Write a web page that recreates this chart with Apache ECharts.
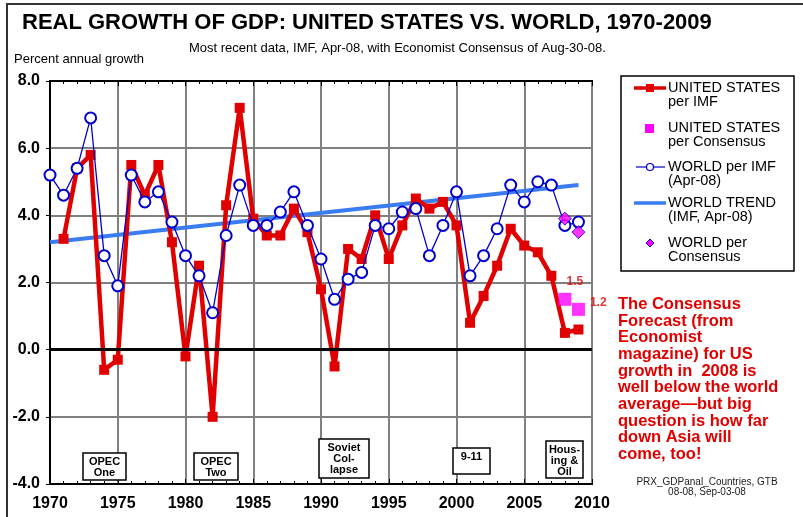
<!DOCTYPE html>
<html>
<head>
<meta charset="utf-8">
<script src="https://cdn.jsdelivr.net/npm/echarts@6/dist/echarts.min.js"></script>
<style>
  html, body { margin: 0; padding: 0; background: #fff; }
  #chart { width: 803px; height: 517px; }
</style>
</head>
<body>
<div id="chart"></div>
<script>
// data (percent annual growth)
const usYears = [1971, 1972, 1973, 1974, 1975, 1976, 1977, 1978, 1979, 1980,
  1981, 1982, 1983, 1984, 1985, 1986, 1987, 1988, 1989, 1990,
  1991, 1992, 1993, 1994, 1995, 1996, 1997, 1998, 1999, 2000,
  2001, 2002, 2003, 2004, 2005, 2006, 2007, 2008, 2009];
const usImf = [3.3, 5.4, 5.8, -0.6, -0.3, 5.5, 4.6, 5.5, 3.2, -0.2,
  2.5, -2.0, 4.3, 7.2, 3.9, 3.4, 3.4, 4.2, 3.5, 1.8,
  -0.5, 3.0, 2.7, 4.0, 2.7, 3.7, 4.5, 4.2, 4.4, 3.7,
  0.8, 1.6, 2.5, 3.6, 3.1, 2.9, 2.2, 0.5, 0.6];

const worldYears = [1970, 1971, 1972, 1973, 1974, 1975, 1976, 1977, 1978, 1979,
  1980, 1981, 1982, 1983, 1984, 1985, 1986, 1987, 1988, 1989,
  1990, 1991, 1992, 1993, 1994, 1995, 1996, 1997, 1998, 1999,
  2000, 2001, 2002, 2003, 2004, 2005, 2006, 2007, 2008, 2009];
const worldImf = [5.2, 4.6, 5.4, 6.9, 2.8, 1.9, 5.2, 4.4, 4.7, 3.8,
  2.8, 2.2, 1.1, 3.4, 4.9, 3.7, 3.7, 4.1, 4.7, 3.7,
  2.7, 1.5, 2.1, 2.3, 3.7, 3.6, 4.1, 4.2, 2.8, 3.7,
  4.7, 2.2, 2.8, 3.6, 4.9, 4.4, 5.0, 4.9, 3.7, 3.8];

const consensusYears = [2008, 2009];
const usConsensus = [1.5, 1.2];
const worldConsensus = [3.9, 3.5];

const trendYears = [1970, 2009];
const worldTrend = [3.2, 4.9];

const legendNames = [
  'UNITED STATES\nper IMF',
  'UNITED STATES\nper Consensus',
  'WORLD per IMF\n(Apr-08)',
  'WORLD TREND\n(IMF, Apr-08)',
  'WORLD per\nConsensus',
];

const events = [
  { text: 'OPEC\nOne', x: 83, y: 453, w: 43, h: 27 },
  { text: 'OPEC\nTwo', x: 194, y: 453, w: 44, h: 27 },
  { text: 'Soviet\nCol-\nlapse', x: 319, y: 439, w: 50, h: 39 },
  { text: '9-11', x: 453, y: 448, w: 37, h: 26 },
  { text: 'Hous-\ning &\nOil', x: 546, y: 441, w: 37, h: 37 },
];

const note = 'The Consensus\nForecast (from\nEconomist\nmagazine) for US\ngrowth in  2008 is\nwell below the world\naverage\u2014but big\nquestion is how far\ndown Asia will\ncome, too!';

const FONT = '"Liberation Sans", Arial, sans-serif';
const RED = '#e00000';
const BLUE = '#0000cc';
const TREND = '#3a7cf2';
const MAGENTA = '#ff00ff';

const pair = (xs, ys) => ys.map((v, i) => [xs[i], v]);

const chart = echarts.init(document.getElementById('chart'), null, { renderer: 'canvas' });

const consensusLabels = [
  { show: true, position: 'top', offset: [10, 0] },
  { show: true, position: 'right', offset: [0, -7] },
];

// hand-built legend so the key sits level with the first text line
const legendRows = [88, 128, 167, 203, 243];
const legendKeys = [
  [
    { type: 'line', shape: { x1: 634, y1: 88, x2: 666, y2: 88 }, style: { stroke: RED, lineWidth: 3.5 } },
    { type: 'rect', shape: { x: 646, y: 84, width: 8, height: 8 }, style: { fill: RED } },
  ],
  [
    { type: 'rect', shape: { x: 645, y: 124, width: 9, height: 9 }, style: { fill: MAGENTA } },
  ],
  [
    { type: 'line', shape: { x1: 636, y1: 167, x2: 665, y2: 167 }, style: { stroke: BLUE, lineWidth: 1.2 } },
    { type: 'circle', shape: { cx: 650, cy: 167, r: 3.5 }, style: { fill: '#fff', stroke: BLUE, lineWidth: 1.2 } },
  ],
  [
    { type: 'line', shape: { x1: 634, y1: 203, x2: 666, y2: 203 }, style: { stroke: TREND, lineWidth: 3.5 } },
  ],
  [
    { type: 'polygon', shape: { points: [[650, 239], [654, 243], [650, 247], [646, 243]] }, style: { fill: MAGENTA, stroke: BLUE, lineWidth: 1 } },
  ],
];

chart.setOption({
  animation: false,
  textStyle: { fontFamily: FONT },
  grid: { left: 50, right: 211, top: 81, bottom: 33, show: true, borderColor: '#000', borderWidth: 2 },
  xAxis: [{
    type: 'value', min: 1970, max: 2010, interval: 5,
    axisLine: { onZero: false, lineStyle: { color: '#000', width: 2 } },
    axisTick: { inside: true, length: 5, lineStyle: { color: '#000' } },
    minorTick: { show: true, splitNumber: 5, length: 3, lineStyle: { color: '#000' } },
    axisLabel: { fontSize: 16, fontWeight: 'bold', color: '#000', margin: 12, formatter: v => String(v) },
    splitLine: { show: true, lineStyle: { color: '#808080', width: 2 } },
  }, {
    type: 'value', min: 1970, max: 2010, interval: 5, position: 'top',
    axisLine: { onZero: false, lineStyle: { color: '#000', width: 2 } },
    axisTick: { inside: true, length: 5, lineStyle: { color: '#000' } },
    minorTick: { show: true, splitNumber: 5, length: 3, lineStyle: { color: '#000' } },
    axisLabel: { show: false },
    splitLine: { show: false },
  }],
  yAxis: {
    type: 'value', min: -4, max: 8, interval: 2,
    axisLine: { show: true, lineStyle: { color: '#000', width: 2 } },
    axisTick: { show: true, length: 4, lineStyle: { color: '#000' } },
    axisLabel: { fontSize: 16, fontWeight: 'bold', color: '#000', margin: 10, formatter: v => v.toFixed(1) },
    splitLine: { show: true, lineStyle: { color: '#808080', width: 2 } },
  },
  series: [
    {
      name: legendNames[3], type: 'line', z: 2,
      data: pair(trendYears, worldTrend),
      symbol: 'none', lineStyle: { color: TREND, width: 4 }, itemStyle: { color: TREND },
    },
    {
      name: legendNames[0], type: 'line', z: 3,
      data: pair(usYears, usImf),
      symbol: 'rect', symbolSize: 10,
      lineStyle: { color: RED, width: 4.5 }, itemStyle: { color: RED },
      markLine: {
        silent: true, symbol: 'none', label: { show: false },
        lineStyle: { color: '#000', width: 3, type: 'solid' },
        data: [{ yAxis: 0 }],
      },
    },
    {
      name: legendNames[2], type: 'line', z: 4,
      data: pair(worldYears, worldImf),
      symbol: 'emptyCircle', symbolSize: 11,
      lineStyle: { color: BLUE, width: 1.3 }, itemStyle: { color: BLUE, borderWidth: 1.3 },
    },
    {
      name: legendNames[1], type: 'scatter', z: 5,
      data: usConsensus.map((v, i) => ({ value: [consensusYears[i], v], label: consensusLabels[i] })),
      symbol: 'rect', symbolSize: 13, itemStyle: { color: MAGENTA },
      label: { color: RED, fontSize: 12, fontWeight: 'bold', formatter: p => p.value[1].toFixed(1) },
    },
    {
      name: legendNames[4], type: 'scatter', z: 5,
      data: pair(consensusYears, worldConsensus),
      symbol: 'diamond', symbolSize: 13,
      itemStyle: { color: MAGENTA, borderColor: BLUE, borderWidth: 1 },
    },
  ],
  graphic: [
    { type: 'polyline', shape: { points: [[7, 517], [7, 4], [803, 4]] }, style: { stroke: '#333', lineWidth: 2, fill: null } },
    { type: 'text', left: 22, top: 12, style: { text: 'REAL GROWTH OF GDP: UNITED STATES VS. WORLD, 1970-2009', fontSize: 22, fontWeight: 'bold', fill: '#000', fontFamily: FONT } },
    { type: 'text', left: 189, top: 42, style: { text: 'Most recent data, IMF, Apr-08, with Economist Consensus of Aug-30-08.', fontSize: 13, fill: '#000', fontFamily: FONT } },
    { type: 'text', left: 14, top: 53, style: { text: 'Percent annual growth', fontSize: 13, fill: '#000', fontFamily: FONT } },
    { type: 'rect', shape: { x: 621, y: 76, width: 173, height: 195 }, style: { stroke: '#000', lineWidth: 1.5, fill: null }, z: 1 },
    ...legendKeys.flat(),
    ...legendNames.map((name, i) => ({
      type: 'text', x: 668, y: legendRows[i] - 7,
      style: { text: name, fontSize: 14.5, lineHeight: 14, fill: '#000', verticalAlign: 'top', fontFamily: FONT },
    })),
    ...events.flatMap(e => [
      { type: 'rect', shape: { x: e.x, y: e.y, width: e.w, height: e.h }, style: { fill: '#fff', stroke: '#000', lineWidth: 1.5 }, z: 10 },
      { type: 'text', x: e.x + e.w / 2, y: e.y + 3, z: 11,
        style: { text: e.text, fontSize: 11, fontWeight: 'bold', lineHeight: 11, fill: '#000', align: 'center', verticalAlign: 'top', fontFamily: FONT } },
    ]),
    { type: 'text', x: 618, y: 296, style: { text: note, fontSize: 16.5, fontWeight: 'bold', lineHeight: 16.7, fill: RED, fontFamily: FONT } },
    { type: 'text', x: 707, y: 477, style: { text: 'PRX_GDPanal_Countries, GTB\n08-08, Sep-03-08', fontSize: 10, lineHeight: 10, fill: '#222', align: 'center', fontFamily: FONT } },
  ],
});
</script>
</body>
</html>
